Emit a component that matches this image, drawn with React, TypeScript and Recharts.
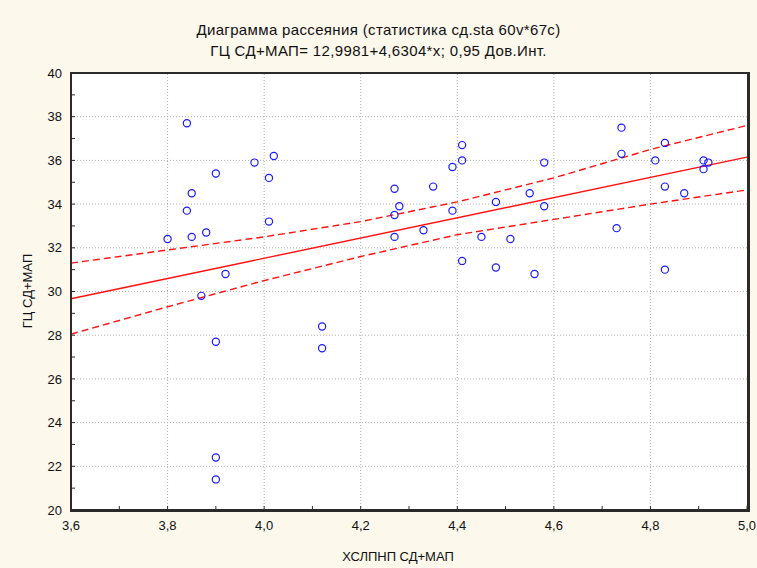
import { ScatterChart, Scatter, XAxis, YAxis, ReferenceLine, ReferenceArea } from 'recharts';

// observed points (ХСЛПНП, ГЦ)
const ptX = [
  3.80, 3.84, 3.84, 3.85, 3.85, 3.88, 3.90, 3.87, 3.92, 3.90, 3.90, 3.90,
  3.98, 4.02, 4.01, 4.01, 4.12, 4.12, 4.27, 4.28, 4.27, 4.27, 4.33, 4.35,
  4.39, 4.41, 4.41, 4.39, 4.41, 4.45, 4.48, 4.48, 4.51, 4.55, 4.58, 4.58,
  4.56, 4.74, 4.74, 4.73, 4.81, 4.83, 4.83, 4.83, 4.87, 4.91, 4.92, 4.91,
];
const ptY = [
  32.4, 37.7, 33.7, 34.5, 32.5, 32.7, 35.4, 29.8, 30.8, 27.7, 22.4, 21.4,
  35.9, 36.2, 35.2, 33.2, 28.4, 27.4, 34.7, 33.9, 33.5, 32.5, 32.8, 34.8,
  35.7, 36.7, 36.0, 33.7, 31.4, 32.5, 34.1, 31.1, 32.4, 34.5, 35.9, 33.9,
  30.8, 37.5, 36.3, 32.9, 36.0, 36.8, 34.8, 31.0, 34.5, 36.0, 35.9, 35.6,
];

// regression line ends and 0,95 confidence band
const fitX = [3.6, 5.0];
const fitY = [29.67, 36.15];
const bandX = [3.6, 3.8, 4.0, 4.2, 4.4, 4.6, 4.8, 5.0];
const upperY = [31.3, 31.9, 32.5, 33.2, 34.1, 35.2, 36.5, 37.6];
const lowerY = [28.05, 29.3, 30.5, 31.6, 32.6, 33.3, 34.0, 34.65];

const xTicks = [3.6, 3.7, 3.8, 3.9, 4.0, 4.1, 4.2, 4.3, 4.4, 4.5, 4.6, 4.7, 4.8, 4.9, 5.0];
const xGrid = [3.8, 4.0, 4.2, 4.4, 4.6, 4.8];
const yTicks = [20, 21, 22, 23, 24, 25, 26, 27, 28, 29, 30, 31, 32, 33, 34, 35, 36, 37, 38, 39, 40];
const yGrid = [22, 24, 26, 28, 30, 32, 34, 36, 38];

const points = ptX.map((x, i) => ({ x, y: ptY[i] }));
const fit = fitX.map((x, i) => ({ x, y: fitY[i] }));
const upper = bandX.map((x, i) => ({ x, y: upperY[i] }));
const lower = bandX.map((x, i) => ({ x, y: lowerY[i] }));

const FONT = '"Liberation Sans", Arial, sans-serif';
const BG = '#fdf8ec';
const FRAME = '#2a2a2a';

const fmtX = (v: number) => (Math.round(v * 10) % 2 === 0 ? v.toFixed(1).replace('.', ',') : '');
const fmtY = (v: number) => (v % 2 === 0 ? String(v) : '');

const Circle = (props: any) => (
  <circle cx={props.cx} cy={props.cy} r={3.6} fill="none" stroke="#1a1aff" strokeWidth={1.2} />
);
const Nothing = () => <g />;

export default function App() {
  const tickStyle = { fontSize: 13, fill: '#111', fontFamily: FONT };
  const titleStyle = {
    position: 'absolute' as const, left: 0, width: 757, textAlign: 'center' as const,
    fontSize: 15, letterSpacing: 0.35, color: '#111',
  };
  return (
    <div style={{ position: 'fixed', left: 0, top: 0, width: 757, height: 568, background: BG, fontFamily: FONT }}>
      <div style={{ ...titleStyle, top: 21 }}>Диаграмма рассеяния (статистика сд.sta 60v*67c)</div>
      <div style={{ ...titleStyle, top: 42 }}>ГЦ СД+МАП= 12,9981+4,6304*x; 0,95 Дов.Инт.</div>
      <div style={{ position: 'absolute', left: 318, width: 160, top: 549, textAlign: 'center', fontSize: 13, color: '#111' }}>
        ХСЛПНП СД+МАП
      </div>
      <div
        style={{
          position: 'absolute', left: 27, top: 291, width: 160, textAlign: 'center', fontSize: 13, color: '#111',
          transform: 'translate(-50%, -50%) rotate(-90deg)',
        }}
      >
        ГЦ СД+МАП
      </div>
      <ScatterChart width={757} height={568} margin={{ top: 73, right: 10, bottom: 18, left: 11 }}>
        <XAxis
          type="number" dataKey="x" domain={[3.6, 5.0]} ticks={xTicks} tickFormatter={fmtX}
          height={40} tickSize={-4} tickMargin={15} interval={0}
          axisLine={{ stroke: FRAME, strokeWidth: 2 }} tickLine={{ stroke: FRAME }} tick={tickStyle}
        />
        <XAxis
          xAxisId="top" orientation="top" type="number" domain={[3.6, 5.0]} ticks={xTicks} tickFormatter={() => ''}
          height={0} tickSize={-4} interval={0}
          axisLine={{ stroke: FRAME, strokeWidth: 2 }} tickLine={{ stroke: FRAME }} tick={tickStyle}
        />
        <YAxis
          type="number" dataKey="y" domain={[20, 40]} ticks={yTicks} tickFormatter={fmtY}
          width={60} tickSize={-4} tickMargin={13} interval={0}
          axisLine={{ stroke: FRAME, strokeWidth: 2 }} tickLine={{ stroke: FRAME }} tick={tickStyle}
        />
        <YAxis
          yAxisId="right" orientation="right" type="number" domain={[20, 40]} ticks={yTicks} tickFormatter={() => ''}
          width={0} tickSize={-4} interval={0}
          axisLine={{ stroke: FRAME, strokeWidth: 3 }} tickLine={{ stroke: FRAME }} tick={tickStyle}
        />
        <ReferenceArea x1={3.6} x2={5.0} y1={20} y2={40} fill="#ffffff" fillOpacity={1} />
        {xGrid.map((v) => (
          <ReferenceLine key={'gx' + v} x={v} stroke="#b0b0b0" strokeDasharray="1 2" />
        ))}
        {yGrid.map((v) => (
          <ReferenceLine key={'gy' + v} y={v} stroke="#b0b0b0" strokeDasharray="1 2" />
        ))}
        <Scatter data={upper} line={{ stroke: '#ff1010', strokeWidth: 1.4, strokeDasharray: '7 4' }} lineType="joint" shape={Nothing} isAnimationActive={false} />
        <Scatter data={lower} line={{ stroke: '#ff1010', strokeWidth: 1.4, strokeDasharray: '7 4' }} lineType="joint" shape={Nothing} isAnimationActive={false} />
        <Scatter data={fit} line={{ stroke: '#ff1010', strokeWidth: 1.4 }} lineType="joint" shape={Nothing} isAnimationActive={false} />
        <Scatter data={points} shape={Circle} isAnimationActive={false} />
      </ScatterChart>
      {/* plot frame */}
      <div
        style={{
          position: 'absolute', left: 70, top: 72, width: 675, height: 436, zIndex: 5,
          border: '2px solid ' + FRAME, borderRightWidth: 3, pointerEvents: 'none',
        }}
      />
    </div>
  );
}
